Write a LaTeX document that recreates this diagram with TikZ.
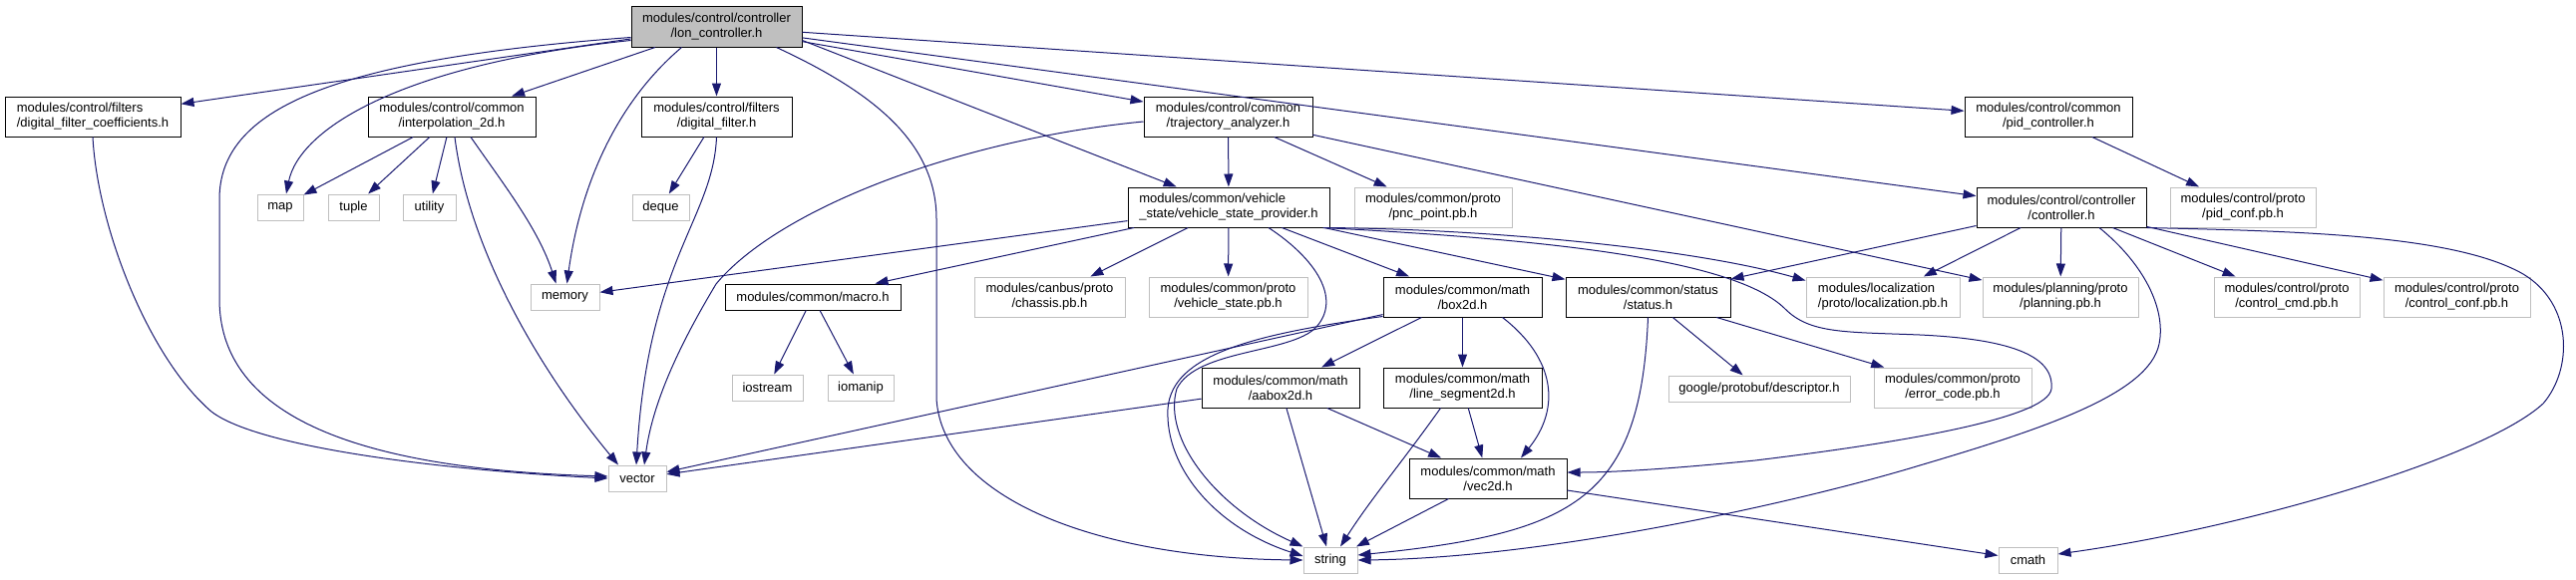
\documentclass[tikz,border=0pt]{standalone}
\usepackage{fontspec}
\setmainfont{Liberation Sans}
\usetikzlibrary{arrows.meta,calc}
\definecolor{edgec}{HTML}{191970}
\definecolor{graybd}{HTML}{BFBFBF}
\tikzset{
  base/.style={rectangle, inner sep=0pt, font=\fontsize{13}{15}\selectfont, align=center, text=black},
  doc/.style={base, draw=black, line width=1pt, fill=white},
  ext/.style={base, draw=graybd, line width=1pt, fill=white},
  rootn/.style={base, draw=black, line width=1pt, fill=graybd},
  e/.style={draw=edgec, line width=1pt, -{Triangle[length=13pt,width=9pt]}},
  sz/.style 2 args={minimum width=#1pt, minimum height=#2pt}
}
\begin{document}
\begin{tikzpicture}[x=1pt,y=-1pt]
\useasboundingbox (0,0) rectangle (2583,581);
\fill[white] (0,0) rectangle (2583,581);
% nodes
\node[rootn,sz={171}{41}] (root) at (718.5,26.5) {modules/control/controller\\/lon\_controller.h};
\node[doc,sz={176}{40},align=left] (fc) at (93,117) {modules/control/filters\\/digital\_filter\_coefficients.h};
\node[doc,sz={168}{40}] (interp) at (453,117) {modules/control/common\\/interpolation\_2d.h};
\node[doc,sz={151}{40}] (dfilter) at (718.5,117) {modules/control/filters\\/digital\_filter.h};
\node[doc,sz={169}{40}] (traj) at (1231.5,117) {modules/control/common\\/trajectory\_analyzer.h};
\node[doc,sz={168}{40}] (pid) at (2054,117) {modules/control/common\\/pid\_controller.h};
\node[ext,sz={46}{26}] (map) at (281,208) {map};
\node[ext,sz={51}{26}] (tuple) at (354.5,208) {tuple};
\node[ext,sz={53}{26}] (utility) at (430.5,208) {utility};
\node[ext,sz={57}{26}] (deque) at (662.5,208) {deque};
\node[doc,sz={202}{40},align=left] (vsp) at (1232,208) {modules/common/vehicle\\\_state/vehicle\_state\_provider.h};
\node[ext,sz={158}{40}] (pnc) at (1437,208) {modules/common/proto\\/pnc\_point.pb.h};
\node[doc,sz={170}{40}] (ctrl) at (2067,208) {modules/control/controller\\/controller.h};
\node[ext,sz={146}{40}] (pidconf) at (2249,208) {modules/control/proto\\/pid\_conf.pb.h};
\node[ext,sz={69}{26}] (memory) at (566.5,298) {memory};
\node[doc,sz={176}{26}] (macro) at (815,298) {modules/common/macro.h};
\node[ext,sz={151}{40}] (chassis) at (1052.5,298) {modules/canbus/proto\\/chassis.pb.h};
\node[ext,sz={159}{40}] (vstate) at (1231.5,298) {modules/common/proto\\/vehicle\_state.pb.h};
\node[doc,sz={159}{40}] (box2d) at (1466.5,298) {modules/common/math\\/box2d.h};
\node[doc,sz={165}{40}] (status) at (1652.5,298) {modules/common/status\\/status.h};
\node[ext,sz={154}{40},align=left] (loc) at (1888,298) {modules/localization\\/proto/localization.pb.h};
\node[ext,sz={156}{40}] (planning) at (2066,298) {modules/planning/proto\\/planning.pb.h};
\node[ext,sz={146}{40}] (ccmd) at (2293,298) {modules/control/proto\\/control\_cmd.pb.h};
\node[ext,sz={147}{40}] (cconf) at (2463.5,298) {modules/control/proto\\/control\_conf.pb.h};
\node[ext,sz={71}{26}] (iostream) at (769.5,389) {iostream};
\node[ext,sz={66}{26}] (iomanip) at (863,389) {iomanip};
\node[doc,sz={158}{40}] (aabox) at (1284,389) {modules/common/math\\/aabox2d.h};
\node[doc,sz={159}{40}] (lineseg) at (1466.5,389) {modules/common/math\\/line\_segment2d.h};
\node[ext,sz={182}{26}] (desc) at (1764,390) {google/protobuf/descriptor.h};
\node[ext,sz={158}{40}] (errcode) at (1958,389) {modules/common/proto\\/error\_code.pb.h};
\node[ext,sz={58}{26}] (vector) at (639,480) {vector};
\node[doc,sz={158}{40}] (vec2d) at (1492,480) {modules/common/math\\/vec2d.h};
\node[ext,sz={54}{26}] (string) at (1334,562) {string};
\node[ext,sz={59}{26}] (cmath) at (2033.5,562) {cmath};
% straight edges
\draw[e] (root) -- (fc);
\draw[e] (root) -- (interp);
\draw[e] (root) -- (dfilter);
\draw[e] (root) -- (traj);
\draw[e] (root) -- (pid);
\draw[e] (root) -- (ctrl);
\draw[e] ($(root.south east)+(0,-7)$) -- (vsp);
\draw[e] (interp) -- (map);
\draw[e] (interp) -- (tuple);
\draw[e] (interp) -- (utility);
\draw[e] (dfilter) -- (deque);
\draw[e] (traj) -- (vsp);
\draw[e] (traj) -- (pnc);
\draw[e] (traj) -- (planning);
\draw[e] (pid) -- (pidconf);
\draw[e] (vsp) -- (memory);
\draw[e] (vsp) -- (macro);
\draw[e] (vsp) -- (chassis);
\draw[e] (vsp) -- (vstate);
\draw[e] (vsp) -- (box2d);
\draw[e] (vsp) -- (status);
\draw[e] (box2d) -- (aabox);
\draw[e] (box2d) -- (lineseg);
\draw[e] (box2d) -- (vector);
\draw[e] (aabox) -- (vector);
\draw[e] (aabox) -- (string);
\draw[e] (aabox) -- (vec2d);
\draw[e] (lineseg) -- (vec2d);
\draw[e] (vec2d) -- (string);
\draw[e] (vec2d) -- (cmath);
\draw[e] (status) -- (desc);
\draw[e] (status) -- (errcode);
\draw[e] (ctrl) -- (status);
\draw[e] (ctrl) -- (loc);
\draw[e] (ctrl) -- (planning);
\draw[e] (ctrl) -- (ccmd);
\draw[e] (ctrl) -- (cconf);
\draw[e] (macro) -- (iostream);
\draw[e] (macro) -- (iomanip);
% curved edges
\draw[e] ($(root.south west)+(0,-7)$) .. controls (400,65) and (300,130) .. ($(map.north)+(6,0)$);
\draw[e] ($(root.south west)+(0,-10)$) .. controls (330,60) and (220,110) .. (220,200) -- (220,300) .. controls (220,410) and (340,470) .. ($(vector.west)+(0,-2)$);
\draw[e] (fc.south) .. controls (98,230) and (150,360) .. (212,413) .. controls (260,450) and (450,472) .. (vector.west);
\draw[e] ($(root.south)+(-35,0)$) .. controls (610,110) and (580,200) .. ($(memory.north)+(2,0)$);
\draw[e] ($(interp.south)+(19,0)$) .. controls (505,185) and (540,230) .. ($(memory.north)+(-9,0)$);
\draw[e] ($(interp.south)+(3,0)$) .. controls (470,250) and (540,370) .. ($(vector.north)+(-19,0)$);
\draw[e] (dfilter.south) .. controls (715,220) and (650,260) .. ($(vector.north)+(-1,0)$);
\draw[e] ($(traj.west)+(0,5)$) .. controls (960,140) and (780,210) .. (718,285) .. controls (685,340) and (655,400) .. ($(vector.north)+(7,0)$);
\draw[e] ($(root.south)+(60,0)$) .. controls (870,90) and (939,140) .. (939,220) -- (939,400) .. controls (945,500) and (1100,560) .. (string.west);
\draw[e] ($(vsp.south)+(40,0)$) .. controls (1320,260) and (1345,300) .. (1320,328) .. controls (1295,355) and (1200,350) .. (1180,390) .. controls (1165,440) and (1220,510) .. (string.north west);
\draw[e] ($(box2d.south west)+(0,-1)$) .. controls (1260,335) and (1175,355) .. (1171,410) .. controls (1168,470) and (1220,530) .. ($(string.west)+(0,-4)$);
\draw[e] ($(vsp.south east)+(-4,0)$) .. controls (1500,230) and (1700,250) .. ($(loc.north west)+(0,4)$);
\draw[e] ($(vsp.south east)+(-7,0)$) .. controls (1550,240) and (1740,260) .. (1790,310) .. controls (1815,335) and (1850,333) .. (1925,336) .. controls (2010,340) and (2060,355) .. (2057,390) .. controls (2054,420) and (1900,445) .. (1760,462) .. controls (1680,470) and (1620,474) .. ($(vec2d.east)+(0,-6)$);
\draw[e] (status.south) .. controls (1645,500) and (1580,535) .. ($(string.east)+(0,-5)$);
\draw[e] ($(ctrl.south)+(38,0)$) .. controls (2150,265) and (2172,310) .. (2165,345) .. controls (2155,395) and (2050,430) .. (1925,467) .. controls (1800,505) and (1550,560) .. (string.east);
\draw[e] (ctrl.south east) .. controls (2300,232) and (2460,235) .. (2530,275) .. controls (2580,305) and (2580,370) .. (2550,405) .. controls (2490,460) and (2250,530) .. ($(cmath.east)+(0,-6)$);
\draw[e] ($(box2d.south)+(40,0)$) .. controls (1560,360) and (1565,410) .. ($(vec2d.north)+(33,0)$);
\draw[e] ($(lineseg.south)+(-22,0)$) .. controls (1405,465) and (1375,500) .. ($(string.north)+(10,0)$);
\end{tikzpicture}
\end{document}
